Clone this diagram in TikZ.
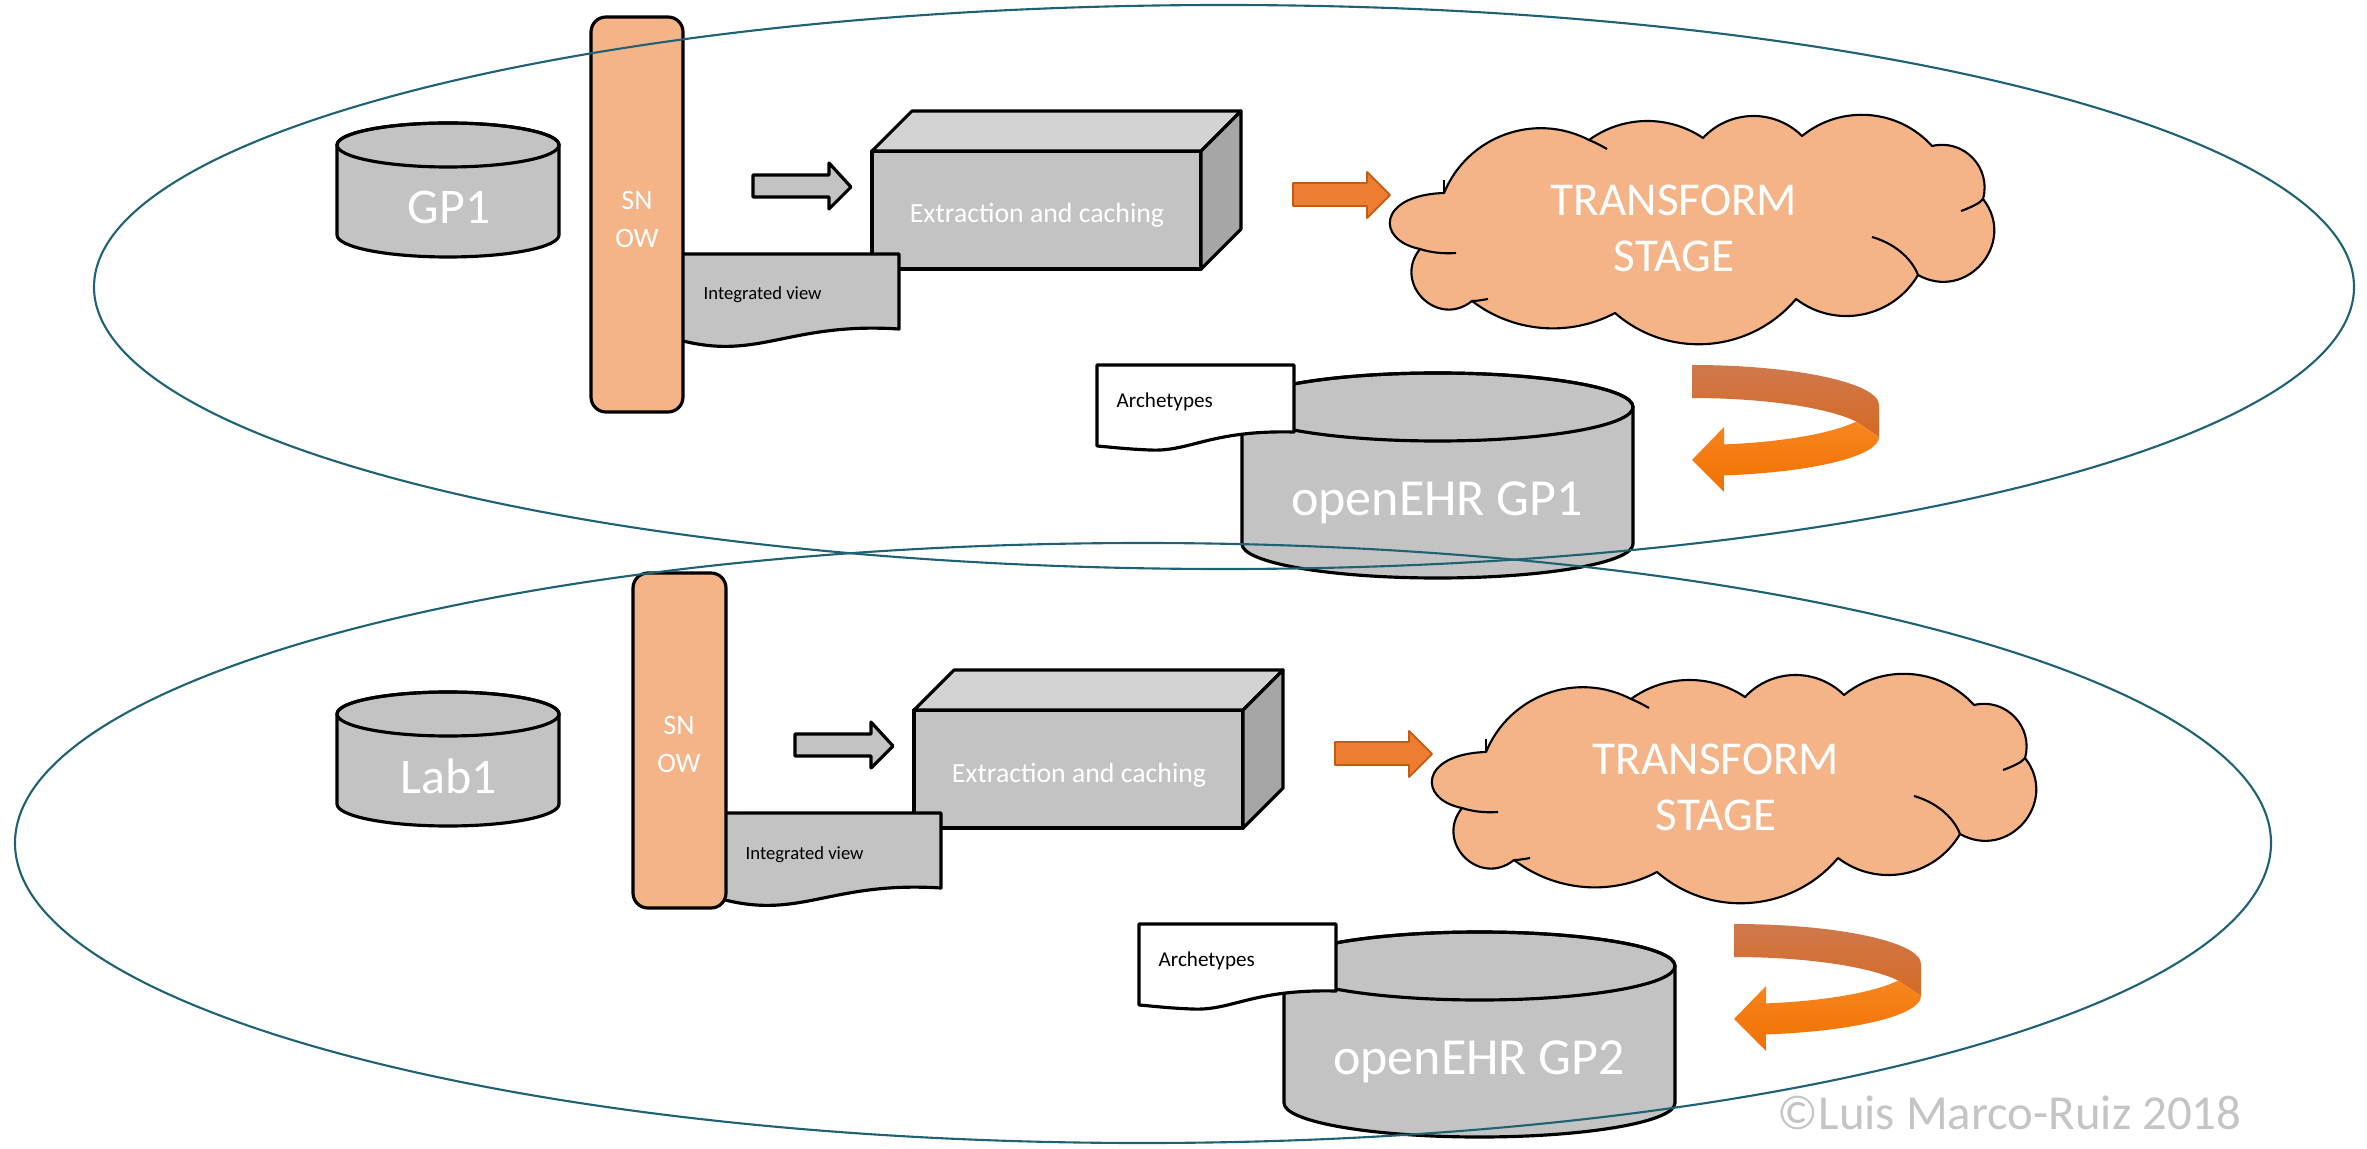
\documentclass[tikz,border=0pt]{standalone}
\usepackage{fontspec}
\setmainfont{Carlito}
\definecolor{shapegray}{RGB}{195,195,195}
\definecolor{topgray}{RGB}{211,211,211}
\definecolor{sidegray}{RGB}{166,166,166}
\definecolor{peach}{RGB}{245,180,136}
\definecolor{orangeA}{RGB}{237,125,49}
\definecolor{orangeB}{RGB}{197,90,17}
\definecolor{ringcol}{RGB}{30,98,115}
\definecolor{arrtopA}{RGB}{208,120,76}
\definecolor{arrtopB}{RGB}{212,106,36}
\definecolor{arrbotA}{RGB}{248,134,32}
\definecolor{arrbotB}{RGB}{240,112,0}
\definecolor{copyg}{RGB}{196,196,196}
\newcommand{\fsBig}{\fontsize{14.2}{17}\selectfont}
\newcommand{\fsSnow}{\fontsize{8}{10.8}\selectfont}
\newcommand{\fsExtr}{\fontsize{7.9}{9.5}\selectfont}
\newcommand{\fsSmall}{\fontsize{5.3}{6.4}\selectfont}
\newcommand{\fsArch}{\fontsize{6}{7.2}\selectfont}
\newcommand{\fsTrans}{\fontsize{13.4}{15.9}\selectfont}
\newcommand{\fsEHR}{\fontsize{14.8}{17.8}\selectfont}
\newcommand{\fsCopy}{\fontsize{13.9}{16.7}\selectfont}
% cylinder: left, right, top, y-radius, bottom
\newcommand{\drawcyl}[5]{%
  \pgfmathsetmacro\cylcx{(#1+#2)/2}%
  \pgfmathsetmacro\cylrx{(#2-#1)/2}%
  \filldraw[outl, fill=shapegray] (#1,#3+#4) -- (#1,#5-#4)
    arc[start angle=180, end angle=0, x radius=\cylrx, y radius=#4]
    -- (#2,#3+#4)
    arc[start angle=0, end angle=-180, x radius=\cylrx, y radius=#4] -- cycle;
  \draw[outl] (\cylcx,#3+#4) ellipse[x radius=\cylrx, y radius=#4];
}
% control points of a circular puff from A=(#2,#3) to B=(#4,#5) with sagitta #6
\newcommand{\puffctl}[6]{%
  \pgfmathsetmacro\pdx{#4-#2}%
  \pgfmathsetmacro\pdy{#5-#3}%
  \pgfmathsetmacro\pc{veclen(\pdx,\pdy)}%
  \pgfmathsetmacro\pf{(1-(2*#6/\pc)^2)/3}%
  \pgfmathsetmacro\pn{4/3*#6/\pc}%
  \coordinate (#1a) at ({#2+\pf*\pdx+\pn*\pdy},{#3+\pf*\pdy-\pn*\pdx});
  \coordinate (#1b) at ({#4-\pf*\pdx+\pn*\pdy},{#5-\pf*\pdy-\pn*\pdx});
}
\newcommand{\rowparts}[2]{%
  % small grey block arrow
  \filldraw[outl, fill=shapegray] (753,175) -- (829,175) -- (829,163) -- (851,187)
    -- (829,209) -- (829,197) -- (753,197) -- cycle;
  % extraction box
  \filldraw[outl, fill=shapegray] (872,151) rectangle (1201,269);
  \filldraw[outl, fill=topgray] (872,151) -- (912,111) -- (1241,111) -- (1201,151) -- cycle;
  \filldraw[outl, fill=sidegray] (1201,151) -- (1241,111) -- (1241,229) -- (1201,269) -- cycle;
  \node[whitetxt, font=\fsExtr, anchor=base] (ext#1) at (1037,223) {Extraction and caching};
  % integrated view document
  \filldraw[outl, fill=shapegray] (675,254) -- (899,254) -- (899,329)
    .. controls (790,322) and (760,360) .. (683,341) -- (675,340) -- cycle;
  \node[anchor=base west, font=\fsSmall, inner sep=0pt] (iv#1) at (703,300) {Integrated view};
  % orange block arrow
  \filldraw[fill=orangeA, draw=orangeB, line width=0.5pt] (1293,183) -- (1367,183) -- (1367,172)
    -- (1390,195) -- (1367,218) -- (1367,206) -- (1293,206) -- cycle;
  % cloud
  \puffctl{qb#1}{1444}{193}{1589}{140}{34}
  \puffctl{qc#1}{1589}{140}{1703}{138}{18}
  \puffctl{qd#1}{1703}{138}{1802}{136}{21}
  \puffctl{qe#1}{1802}{136}{1932}{146}{26}
  \puffctl{qf#1}{1932}{146}{1983}{199}{21}
  \puffctl{qg#1}{1983}{199}{1918}{275}{41}
  \puffctl{qh#1}{1918}{275}{1796}{299}{28}
  \puffctl{qi#1}{1796}{299}{1615}{313}{38}
  \puffctl{qj#1}{1615}{313}{1472}{301}{21}
  \puffctl{qk#1}{1472}{301}{1420}{249}{33}
  \filldraw[fill=peach, draw=black, line width=0.6pt] (1420,249)
    .. controls (1375,240) and (1378,195) .. (1444,193)
    .. controls (qb#1a) and (qb#1b) .. (1589,140)
    .. controls (qc#1a) and (qc#1b) .. (1703,138)
    .. controls (qd#1a) and (qd#1b) .. (1802,136)
    .. controls (qe#1a) and (qe#1b) .. (1932,146)
    .. controls (qf#1a) and (qf#1b) .. (1983,199)
    .. controls (qg#1a) and (qg#1b) .. (1918,275)
    .. controls (qh#1a) and (qh#1b) .. (1796,299)
    .. controls (qi#1a) and (qi#1b) .. (1615,313)
    .. controls (qj#1a) and (qj#1b) .. (1472,301)
    .. controls (qk#1a) and (qk#1b) .. (1420,249) -- cycle;
  \draw[black, line width=0.6pt] (1872,237) .. controls (1893,243) and (1911,257) .. (1918,275);
  \draw[black, line width=0.6pt] (1961,211) .. controls (1972,207) and (1980,203) .. (1983,199);
  \draw[black, line width=0.6pt] (1456,253) .. controls (1441,254) and (1429,252) .. (1420,249);
  \draw[black, line width=0.6pt] (1488,299) .. controls (1482,300) and (1477,301) .. (1472,301);
  \draw[black, line width=0.6pt] (1607,149) .. controls (1600,145) and (1594,142) .. (1589,140);
  \draw[black, line width=0.6pt] (1444,180) .. controls (1444,185) and (1444,189) .. (1444,193);
  \node[whitetxt, font=\fsTrans, align=center, inner sep=0pt] (tr#1) at (1674,228) {TRANSFORM\\STAGE};
  % openEHR cylinder
  \drawcyl{1242}{1633}{373}{34}{578}
  \node[whitetxt, font=\fsEHR, anchor=base] (ehr#1) at (1437,515) {#2};
  % archetypes document
  \filldraw[outl, fill=white] (1097,365) -- (1294,365) -- (1294,432)
    .. controls (1210,430) and (1190,452) .. (1150,450)
    .. controls (1125,449) and (1110,447) .. (1097,446) -- cycle;
  \node[anchor=base west, font=\fsArch, inner sep=0pt] (ar#1) at (1116,407) {Archetypes};
  % curved orange arrow: upper band
  \shade[top color=arrtopA, bottom color=arrtopB] (1692,365)
    arc[start angle=-90, end angle=0, x radius=187, y radius=40]
    -- (1879,437) -- (1856,421.5)
    arc[start angle=-24.4, end angle=-90, x radius=180, y radius=40] -- cycle;
  % lower band with head
  \shade[top color=arrbotA, bottom color=arrbotB] (1856,421.5) -- (1879,437)
    arc[start angle=0, end angle=80.2, x radius=187, y radius=39]
    -- (1724,492) -- (1692,460) -- (1724,427) -- (1724,444.4)
    arc[start angle=79.8, end angle=24.4, x radius=180, y radius=40] -- cycle;
}
\begin{document}
\begin{tikzpicture}[x=0.01cm, y=-0.01cm, line join=round,
  outl/.style={draw=black, line width=0.9pt},
  whitetxt/.style={text=white, inner sep=0pt},
  ring/.style={draw=ringcol, line width=0.6pt}]
\useasboundingbox (0,0) rectangle (2367,1149);
\fill[white] (0,0) rectangle (2367,1149);

% left source databases
\drawcyl{337}{559}{123}{22}{257}
\node[whitetxt, font=\fsBig, anchor=base] (gp1) at (449,224) {GP1};
\drawcyl{337}{559}{692}{22}{826}
\node[whitetxt, font=\fsBig, anchor=base] (lab1) at (449,793) {Lab1};

% rows
\rowparts{a}{openEHR GP1}
\begin{scope}[shift={(42,559)}]
\rowparts{b}{openEHR GP2}
\end{scope}

% SNOW bars
\filldraw[outl, fill=peach, rounded corners=0.15cm] (591,17) rectangle (683,412);
\node[whitetxt, font=\fsSnow, align=center] (snowa) at (637,219) {SN\\OW};
\filldraw[outl, fill=peach, rounded corners=0.15cm] (633,573) rectangle (726,908);
\node[whitetxt, font=\fsSnow, align=center] (snowb) at (679,744) {SN\\OW};

% enclosing ellipses
\draw[ring] (1224,287) ellipse[x radius=1130, y radius=282];
\draw[ring] (1143,843) ellipse[x radius=1128, y radius=300];

\node[anchor=base west, font=\fsCopy, text=copyg, inner sep=0pt] (copy) at (1777,1129) {©Luis Marco-Ruiz 2018};
\end{tikzpicture}
\end{document}
